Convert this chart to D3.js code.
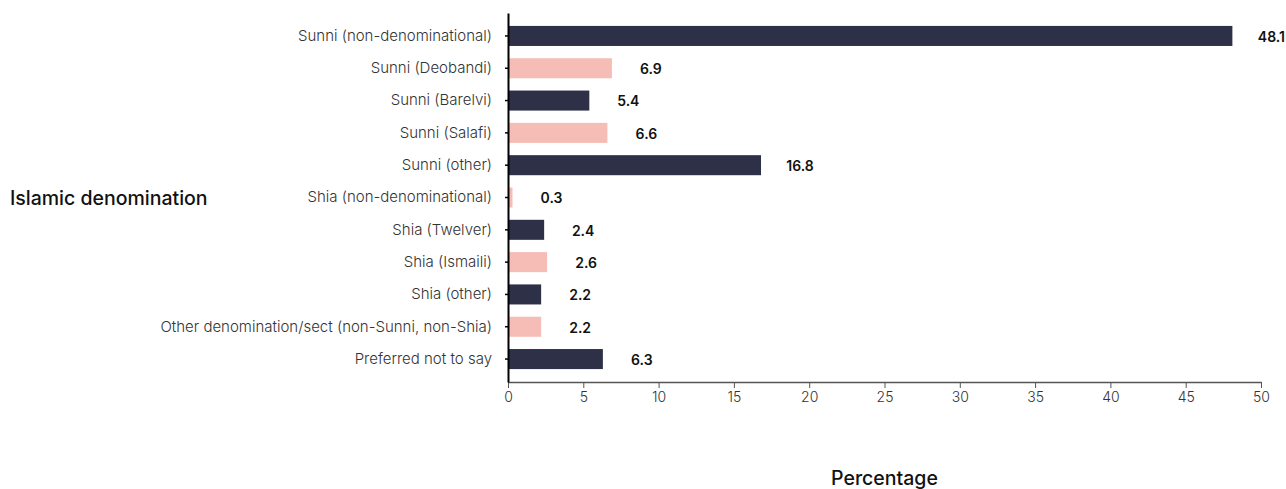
<!DOCTYPE html>
<html>
<head>
<meta charset="utf-8">
<script src="https://cdn.jsdelivr.net/npm/d3@7"></script>
<style>
  body { margin: 0; background: #fff; }
  svg, svg text { font-family: Inter, "Noto Sans", sans-serif; }
</style>
</head>
<body>
<script>
const categories = [
    "Sunni (non-denominational)",
    "Sunni (Deobandi)",
    "Sunni (Barelvi)",
    "Sunni (Salafi)",
    "Sunni (other)",
    "Shia (non-denominational)",
    "Shia (Twelver)",
    "Shia (Ismaili)",
    "Shia (other)",
    "Other denomination/sect (non-Sunni, non-Shia)",
    "Preferred not to say"
]
const values = [48.1, 6.9, 5.4, 6.6, 16.8, 0.3, 2.4, 2.6, 2.2, 2.2, 6.3]
const xTicks = [0, 5, 10, 15, 20, 25, 30, 35, 40, 45, 50]
const barColors = ["#2e3047", "#f5bdb6"]

const svgWidth = 1286;
const svgHeight = 489;
const margin = {top: 13, right: 25, bottom: 107, left: 508}
const chartWidth = svgWidth - margin.left - margin.right;
const chartHeight = svgHeight - margin.top - margin.bottom;

const data = categories.map((c, i) => ({cat: c, value: values[i], idx: i}))

const svg = d3.select("body").append("svg")
    .attr("width", svgWidth)
    .attr("height", svgHeight)

const g = svg.append("g")
    .attr("transform", `translate(${margin.left}, ${margin.top})`)

const scaleX = d3.scaleLinear()
    .domain([0, 50])
    .range([0, 753])

const scaleY = d3.scaleBand()
    .domain(categories)
    .range([0, chartHeight])
    .paddingInner(0.38)
    .paddingOuter(0.4)

// x axis
g.append("g")
    .attr("transform", `translate(0, ${chartHeight})`)
    .call(d3.axisBottom(scaleX).tickValues(xTicks).tickSize(6).tickSizeOuter(0).tickPadding(4))
    .attr("font-family", null)
    .call(a => a.select(".domain").attr("stroke", "#555").attr("stroke-width", 1.5))
    .call(a => a.selectAll(".tick line").attr("stroke", "#555"))
    .call(a => a.selectAll(".tick text")
        .attr("fill", "#333")
        .style("font-size", "14px")
        .style("font-weight", 300))

// bars
g.selectAll("rect.bar")
    .data(data)
    .join("rect")
    .attr("class", "bar")
    .attr("x", 0)
    .attr("y", d => scaleY(d.cat))
    .attr("width", d => scaleX(d.value))
    .attr("height", scaleY.bandwidth())
    .attr("fill", d => barColors[d.idx % 2])

// value labels
g.selectAll("text.val")
    .data(data)
    .join("text")
    .attr("class", "val")
    .attr("x", d => scaleX(d.value) + 39)
    .attr("y", d => scaleY(d.cat) + scaleY.bandwidth() / 2 + 2)
    .attr("text-anchor", "middle")
    .attr("dominant-baseline", "middle")
    .attr("fill", "#111")
    .style("font-size", "14px")
    .style("font-weight", 600)
    .text(d => d.value)

// y axis
g.append("g")
    .call(d3.axisLeft(scaleY).tickSize(3).tickSizeOuter(0).tickPadding(13))
    .attr("font-family", null)
    .call(a => a.select(".domain").attr("stroke", "#000").attr("stroke-width", 2))
    .call(a => a.selectAll(".tick line").attr("stroke", "#000").attr("stroke-width", 1.5))
    .call(a => a.selectAll(".tick text")
        .attr("fill", "#333")
        .style("font-size", "15px")
        .style("font-weight", 300))

// axis titles
svg.append("text")
    .attr("x", 10)
    .attr("y", 200)
    .attr("dominant-baseline", "middle")
    .attr("fill", "#111")
    .style("font-size", "19.5px")
    .style("font-weight", 500)
    .text("Islamic denomination")

svg.append("text")
    .attr("x", margin.left + scaleX(25))
    .attr("y", 480)
    .attr("text-anchor", "middle")
    .attr("dominant-baseline", "middle")
    .attr("fill", "#111")
    .style("font-size", "19.5px")
    .style("font-weight", 500)
    .text("Percentage")
</script>
</body>
</html>
